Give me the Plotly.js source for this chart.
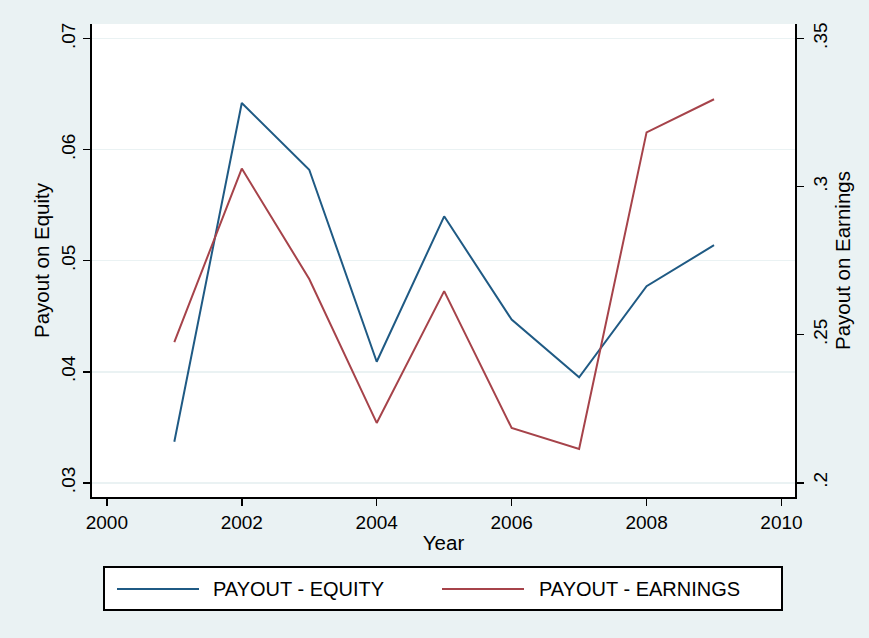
<!DOCTYPE html>
<html><head><meta charset="utf-8">
<script src="https://cdn.plot.ly/plotly-3.0.1.min.js"></script>
<style>html,body{margin:0;padding:0;background:#eaf2f3;}</style>
</head><body>
<div id="chart" style="width:869px;height:638px;"></div>
<script>
const years = [2001, 2002, 2003, 2004, 2005, 2006, 2007, 2008, 2009];
const payoutEquity = [0.0337, 0.0642, 0.0582, 0.0409, 0.0540, 0.0447, 0.0395, 0.0477, 0.0514];
const payoutEarnings = [0.2475, 0.3061, 0.2688, 0.2202, 0.2647, 0.2185, 0.2114, 0.3183, 0.3295];
const xTicks = [2000, 2002, 2004, 2006, 2008, 2010];
const leftTicks = [0.03, 0.04, 0.05, 0.06, 0.07];
const leftTickText = ['.03', '.04', '.05', '.06', '.07'];
const rightTicks = [0.2, 0.25, 0.3, 0.35];
const rightTickText = ['.2', '.25', '.3', '.35'];
const seriesNames = ['PAYOUT - EQUITY', 'PAYOUT - EARNINGS'];
const blue = '#1f5a84', red = '#a6434a';

const fam = 'Liberation Sans, Arial, Helvetica, sans-serif';
const tickFont = {family: fam, size: 19, color: '#000'};
const titleFont = {family: fam, size: 20.5, color: '#000'};
const legendFont = {family: fam, size: 20, color: '#000'};

const traces = [
  {x: years, y: payoutEquity, type: 'scatter', mode: 'lines', name: seriesNames[0],
   line: {color: blue, width: 2}, yaxis: 'y', showlegend: false},
  {x: years, y: payoutEarnings, type: 'scatter', mode: 'lines', name: seriesNames[1],
   line: {color: red, width: 2}, yaxis: 'y2', showlegend: false}
];

// Legend geometry in paper coords (plot area 92..795 x, 24..497 y)
const px = v => (v - 92) / 703;
const py = v => (497 - v) / 473;

const layout = {
  width: 869, height: 638,
  paper_bgcolor: '#eaf2f3', plot_bgcolor: '#ffffff',
  margin: {l: 92, r: 74, t: 24, b: 141},
  font: tickFont,
  showlegend: false,
  xaxis: {
    range: [1999.78, 2010.2], tickvals: xTicks, ticktext: xTicks.map(String),
    ticks: 'outside', ticklen: 7, tickwidth: 1.5, tickcolor: '#000',
    showline: true, linecolor: '#000', linewidth: 2, showgrid: false, zeroline: false,
    tickfont: tickFont, title: {text: 'Year', font: titleFont, standoff: 4}
  },
  yaxis: {
    range: [0.02872, 0.07132], tickvals: leftTicks, ticktext: leftTickText, tickangle: -90,
    ticks: 'outside', ticklen: 7, tickwidth: 1.5, tickcolor: '#000',
    showline: true, linecolor: '#000', linewidth: 2,
    showgrid: true, gridcolor: '#eaf2f3', gridwidth: 1.5, zeroline: false,
    tickfont: tickFont, title: {text: 'Payout on Equity', font: titleFont, standoff: 3}
  },
  yaxis2: {
    range: [0.1952, 0.3549], tickvals: rightTicks, ticktext: rightTickText, tickangle: -90,
    overlaying: 'y', side: 'right',
    ticks: 'outside', ticklen: 7, tickwidth: 1.5, tickcolor: '#000',
    showline: true, linecolor: '#000', linewidth: 2, showgrid: false, zeroline: false,
    tickfont: tickFont, title: {text: 'Payout on Earnings', font: titleFont, standoff: 6}
  },
  shapes: [
    {type: 'rect', xref: 'paper', yref: 'paper', x0: px(104), x1: px(782), y0: py(610), y1: py(567),
     line: {color: '#000', width: 2}, fillcolor: '#ffffff', layer: 'above'},
    {type: 'line', xref: 'paper', yref: 'paper', x0: px(117), x1: px(199), y0: py(589), y1: py(589),
     line: {color: blue, width: 2}},
    {type: 'line', xref: 'paper', yref: 'paper', x0: px(442), x1: px(524), y0: py(589), y1: py(589),
     line: {color: red, width: 2}}
  ],
  annotations: [
    {xref: 'paper', yref: 'paper', x: px(211), y: py(589), xanchor: 'left', yanchor: 'middle',
     text: seriesNames[0], showarrow: false, font: legendFont},
    {xref: 'paper', yref: 'paper', x: px(537), y: py(589), xanchor: 'left', yanchor: 'middle',
     text: seriesNames[1], showarrow: false, font: legendFont}
  ]
};

Plotly.newPlot('chart', traces, layout, {displayModeBar: false, staticPlot: true});
</script>
</body></html>
